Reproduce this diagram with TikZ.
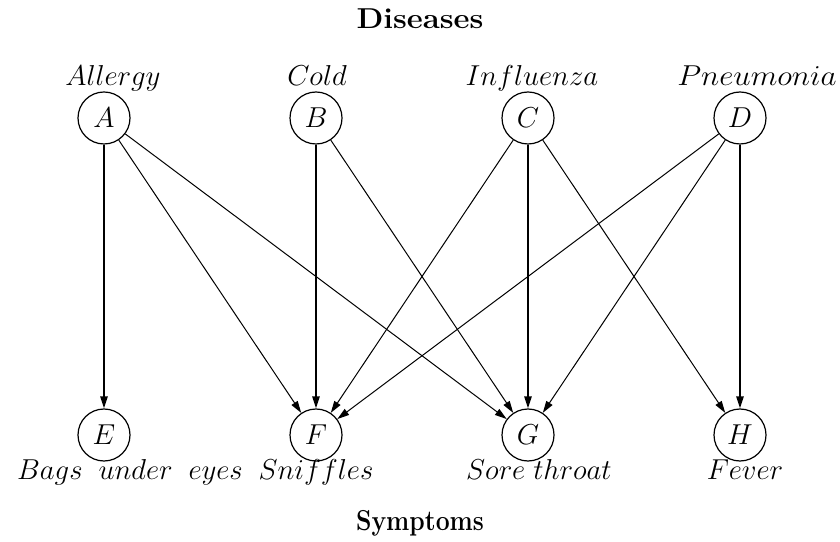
\documentclass[tikz,border=0pt]{standalone}
\usetikzlibrary{arrows.meta}
\begin{document}
\begin{tikzpicture}[x=1pt,y=1pt,
  var/.style={circle,draw,line width=0.6pt,minimum size=26pt,inner sep=0pt,font=\Large},
  lab/.style={anchor=base,font=\Large,inner sep=0pt},
  ttl/.style={anchor=base,font=\Large\bfseries,inner sep=0pt},
  edge/.style={-{Triangle[length=6pt,width=3.6pt]},line width=0.5pt},
  vedge/.style={edge,line width=1pt}]
\useasboundingbox (0,0) rectangle (420,270.5);
% titles
\node[ttl] (dis) at (210,256) {\scalebox{1.08}[1]{Diseases}};
\node[ttl] (sym) at (210,5.5) {\scalebox{0.86}[1]{Symptoms}};
% disease nodes
\node[var] (A) at (52,211.5) {$A$};
\node[var] (B) at (158,211.5) {$B$};
\node[var] (C) at (264,211.5) {$C$};
\node[var] (D) at (370,211.5) {$D$};
% symptom nodes
\node[var] (E) at (52,53) {$E$};
\node[var] (F) at (158,53) {$F$};
\node[var] (G) at (264,53) {$G$};
\node[var] (H) at (370,53) {$H$};
% labels
\node[lab] (la) at (56.5,227.5) {$Allergy$};
\node[lab] (lb) at (158.5,227.5) {$Cold$};
\node[lab] (lc) at (266,227.5) {$Influenza$};
\node[lab] (ld) at (378.5,227.5) {\scalebox{1.08}[1]{$Pneumonia$}};
\node[lab] (le) at (65,31) {$Bags\hspace{8pt}under\hspace{8pt}eyes$};
\node[lab] (lf) at (158,31) {$Sniffles$};
\node[lab] (lg) at (269.5,31) {$Sore\hspace{4pt}throat$};
\node[lab] (lh) at (372.5,31) {$Fever$};
% edges
\draw[vedge] (A) -- (E);
\draw[edge] (A) -- (F);
\draw[edge] (A) -- (G);
\draw[vedge] (B) -- (F);
\draw[edge] (B) -- (G);
\draw[edge] (C) -- (F);
\draw[vedge] (C) -- (G);
\draw[edge] (C) -- (H);
\draw[edge] (D) -- (F);
\draw[edge] (D) -- (G);
\draw[vedge] (D) -- (H);
\end{tikzpicture}
\end{document}
